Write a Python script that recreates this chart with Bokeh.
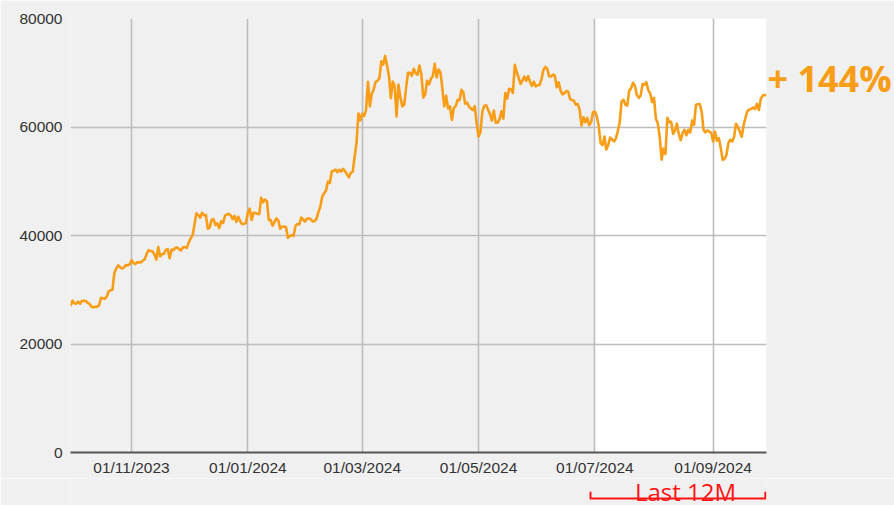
import pandas as pd
from bokeh.plotting import figure
from bokeh.layouts import column
from bokeh.models import (FixedTicker, DatetimeTickFormatter, NumeralTickFormatter,
                          CustomJSTickFormatter, LinearAxis, Range1d)
from bokeh.core.properties import value
from bokeh.embed import file_html
from bokeh.resources import INLINE

# ---------------- data ----------------
start_date = "2023-09-30"
end_date = "2024-09-29"
highlight_start = "2024-07-01"
highlight_label = "Last 12M"

prices_sep23 = [26970]
prices_oct23 = [27990, 27530, 27430, 27790, 27410, 27950, 27970, 27940, 27580, 27390,
                26870, 26760, 26860, 26860, 27160, 28520, 28420, 28330, 28720, 29680,
                29920, 29990, 33090, 33900, 34500, 34160, 33910, 34090, 34540, 34500, 34670]
prices_nov23 = [35440, 34940, 34730, 35080, 35050, 35040, 35400, 35650, 36700, 37310,
                37130, 37070, 36490, 35550, 37860, 36160, 36600, 36580, 37390, 37480,
                35810, 37410, 37290, 37720, 37800, 37480, 37250, 37830, 37860, 37710]
prices_dec23 = [38690, 39470, 39980, 41980, 44080, 43770, 43290, 44170, 43720, 43790,
                41240, 41450, 42890, 43020, 41930, 42240, 41360, 42620, 42270, 43650,
                43870, 43990, 43740, 43020, 43610, 42520, 43440, 42630, 42100, 42160, 42280]
prices_jan24 = [44180, 44950, 42850, 44180, 44160, 43970, 43930, 46970, 46110, 46630,
                46370, 42850, 42840, 41800, 42510, 43150, 42740, 41260, 41620, 41660,
                41580, 39570, 39890, 40080, 39930, 41820, 42120, 42030, 43300, 42950, 42580]
prices_feb24 = [43080, 43190, 42990, 42580, 42660, 43080, 44320, 45300, 47150, 47770,
                48290, 49960, 49700, 51810, 51940, 52160, 51660, 52120, 51780, 52280,
                51840, 51300, 50730, 51570, 51730, 54520, 57090, 62500, 61200]
prices_mar24 = [62440, 62030, 63170, 68330, 63800, 66110, 66930, 68300, 68500, 69020,
                72120, 71480, 73100, 71400, 69400, 65320, 68390, 67610, 61930, 67840,
                65500, 63800, 64100, 67240, 70000, 69990, 69450, 70740, 69890, 69650, 71330]
prices_apr24 = [69700, 65450, 65970, 68500, 67840, 68900, 69360, 71630, 69140, 70590,
                70060, 67190, 63820, 65740, 63420, 63810, 61280, 63510, 63840, 64990,
                64930, 66840, 66410, 64300, 64480, 63760, 63420, 63110, 63840, 60640]
prices_may24 = [58250, 59120, 62890, 63890, 64030, 63160, 62330, 61190, 63050, 60790,
                60790, 61450, 62900, 61550, 66270, 65230, 67050, 66940, 66280, 71450,
                70140, 69120, 67930, 68530, 69290, 68510, 69390, 68300, 67580, 68360, 67490]
prices_jun24 = [67710, 67750, 68800, 70570, 71080, 70760, 69340, 69310, 69650, 69500,
                67320, 68240, 66750, 66010, 66190, 66640, 66490, 65160, 64960, 64830,
                64100, 64260, 63160, 60280, 61800, 60860, 61670, 60320, 60890, 62680]
prices_jul24 = [62850, 62030, 60170, 57030, 56660, 58230, 55850, 56700, 58050, 57720,
                57340, 57890, 59200, 60800, 64720, 65040, 64090, 63970, 66710, 67160,
                68160, 67590, 65930, 65370, 65780, 67910, 67810, 68250, 66780, 66200, 64620]
prices_aug24 = [65350, 61500, 60680, 58120, 53990, 56030, 55030, 61710, 60880, 60940,
                58710, 59350, 60610, 58740, 57560, 58870, 59480, 58480, 59490, 59010,
                61180, 60380, 64090, 64180, 64240, 62830, 59420, 59030, 59370, 59120, 58970]
prices_sep24 = [57330, 59120, 57480, 57970, 56160, 53950, 54140, 54840, 57020, 57650,
                57340, 58130, 60570, 60010, 59180, 58210, 60310, 61760, 62950, 63200,
                63350, 63580, 63340, 64260, 63140, 65180, 65790, 65890, 65880]

x_tick_dates = ["2023-11-01", "2024-01-01", "2024-03-01", "2024-05-01", "2024-07-01", "2024-09-01"]
y_ticks = [0, 20000, 40000, 60000, 80000]

prices = (prices_sep23 + prices_oct23 + prices_nov23 + prices_dec23 + prices_jan24 +
          prices_feb24 + prices_mar24 + prices_apr24 + prices_may24 + prices_jun24 +
          prices_jul24 + prices_aug24 + prices_sep24)
dates = pd.date_range(start_date, end_date, freq="D")
assert len(dates) == len(prices)

pct = round((prices[-1] / prices[0] - 1) * 100)
pct_text = f"+ {pct}%"

# ---------------- styling constants ----------------
BG = "#f0f0f0"
ORANGE = "#f79d17"
RED = "#ff1414"
GRID = "#bdbdbd"
FONT = "Liberation Sans"
W = 894
LEFT, RIGHT = 70, 128
MAIN_H, STRIP_H = 478, 27
DAY = 86400000.0


def ms(d):
    return pd.Timestamp(d).value / 1e6


x0, x1 = ms(dates[0]), ms(dates[-1])

# ---------------- main chart ----------------
p = figure(width=W, height=MAIN_H, x_axis_type="datetime",
           output_backend="svg", toolbar_location=None,
           x_range=Range1d(dates[0], dates[-1]), y_range=Range1d(0, 80000),
           min_border_left=LEFT, min_border_right=RIGHT, min_border_top=18, min_border_bottom=26)
p.background_fill_color = BG
p.border_fill_color = BG
p.outline_line_color = None

# highlighted period (under the grid)
p.quad(left=[pd.Timestamp(highlight_start)], right=[dates[-1]],
       bottom=[y_ticks[0]], top=[y_ticks[-1]],
       fill_color="white", line_color=None, level="image")

# price line
p.line(dates, prices, line_color=ORANGE, line_width=2.6, line_join="round")

p.xaxis.ticker = FixedTicker(ticks=[ms(d) for d in x_tick_dates])
fmt = "%d/%m/%Y"
p.xaxis.formatter = DatetimeTickFormatter(days=fmt, months=fmt, years=fmt, hours=fmt,
                                          minutes=fmt, seconds=fmt, milliseconds=fmt,
                                          microseconds=fmt, minsec=fmt, hourmin=fmt)
p.yaxis.ticker = FixedTicker(ticks=y_ticks)
p.yaxis.formatter = NumeralTickFormatter(format="0")

for ax in (p.xaxis, p.yaxis):
    ax.major_label_text_font = FONT
    ax.major_label_text_font_size = "15.5px"
    ax.major_label_text_color = "#333333"
    ax.major_tick_line_color = None
    ax.minor_tick_line_color = None
    ax.major_tick_out = 0
    ax.major_tick_in = 0
    ax.minor_tick_out = 0
    ax.minor_tick_in = 0
p.xaxis.axis_line_color = "#555555"
p.xaxis.axis_line_width = 2
p.xaxis.major_label_standoff = 6
p.yaxis.axis_line_color = None
p.yaxis.major_label_standoff = 8

p.xgrid.grid_line_color = GRID
p.ygrid.grid_line_color = GRID
p.xgrid.grid_line_width = 1.6
p.ygrid.grid_line_width = 1.6

# percentage change, to the right of the frame (single-tick right axis)
pct_axis = LinearAxis(ticker=FixedTicker(ticks=[69000], minor_ticks=[]),
                      formatter=CustomJSTickFormatter(args=dict(t=pct_text), code="return t"),
                      axis_line_color=None, major_tick_line_color=None, minor_tick_line_color=None,
                      major_tick_out=0, major_tick_in=0, minor_tick_out=0, minor_tick_in=0,
                      major_label_standoff=1, major_label_text_font="Open Sans",
                      major_label_text_font_style="bold", major_label_text_font_size="36px",
                      major_label_text_color=ORANGE)
p.add_layout(pct_axis, "right")

# ---------------- bottom strip: "Last 12M" bracket (same date scale) ----------------
strip = figure(width=W, height=STRIP_H, output_backend="svg", toolbar_location=None,
               x_range=p.x_range, y_range=Range1d(STRIP_H, 0),
               x_axis_location=None, y_axis_location=None,
               min_border_left=LEFT, min_border_right=RIGHT, min_border_top=0, min_border_bottom=0)
strip.background_fill_color = BG
strip.border_fill_color = BG
strip.outline_line_color = None
strip.grid.visible = False

b_left = ms(highlight_start) - 2.3 * DAY
b_right = x1 - 0.6 * DAY
b_mid = ms(highlight_start) + 47.5 * DAY
strip.line([b_left, b_left, b_right, b_right], [14, 20, 20, 14],
           line_color=RED, line_width=2, line_join="round", line_cap="round")
strip.text(x=[b_mid], y=[13], text=[highlight_label],
           text_font=value("Open Sans"), text_font_size="24px", text_color=RED,
           text_align="center", text_baseline="alphabetic")

layout = column(p, strip, spacing=0)
open("out.html", "w").write(file_html(layout, INLINE))
